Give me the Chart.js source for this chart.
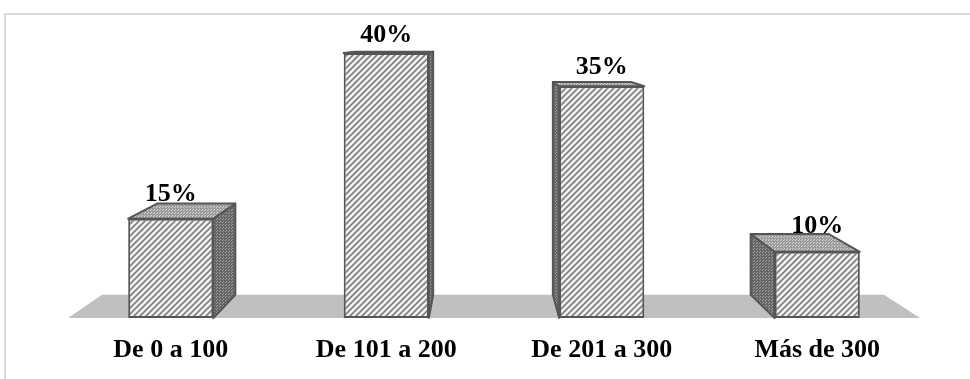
<!DOCTYPE html>
<html>
<head>
<meta charset="utf-8">
<script src="https://cdn.jsdelivr.net/npm/chart.js@4/dist/chart.umd.min.js"></script>
<style>
  html, body { margin: 0; padding: 0; background: #fff; }
  canvas { display: block; }
</style>
</head>
<body>
<canvas id="c" width="970" height="379"></canvas>
<script>
// Chart data
const categories = ['De 0 a 100', 'De 101 a 200', 'De 201 a 300', 'Más de 300'];
const percentages = [15, 40, 35, 10];
const valueAxisMax = 45;

const canvas = document.getElementById('c');
const ctx = canvas.getContext('2d');

// ---- fill patterns ----
function makePattern(size, paint) {
  const tile = document.createElement('canvas');
  tile.width = tile.height = size;
  const g = tile.getContext('2d');
  paint(g, size);
  return ctx.createPattern(tile, 'repeat');
}

// front faces: wide upward diagonal hatch
const hatch = makePattern(6, (g, s) => {
  g.fillStyle = '#f2f2f2';
  g.fillRect(0, 0, s, s);
  g.strokeStyle = '#7e7e7e';
  g.lineWidth = 1.6;
  g.beginPath();
  g.moveTo(-1, s + 1); g.lineTo(s + 1, -1);
  g.moveTo(-1, 1); g.lineTo(1, -1);
  g.moveTo(s - 1, s + 1); g.lineTo(s + 1, s - 1);
  g.stroke();
});

// top faces: light dotted grey
const dotsTop = makePattern(3, (g, s) => {
  g.fillStyle = '#9c9c9c';
  g.fillRect(0, 0, s, s);
  g.fillStyle = '#d6d6d6';
  g.fillRect(0, 0, 1, 1);
  g.fillRect(1, 2, 1, 1);
});

// side faces: dark dotted grey
const dotsSide = makePattern(3, (g, s) => {
  g.fillStyle = '#666666';
  g.fillRect(0, 0, s, s);
  g.fillStyle = '#a0a0a0';
  g.fillRect(0, 0, 1, 1);
  g.fillRect(1, 2, 1, 1);
});

// ---- simple one-point perspective for the 3D boxes ----
const VP = { x: 482, y: 35 };
const DEPTH = 0.082;
function back(x, y) {
  return [x + DEPTH * (VP.x - x), y + DEPTH * (VP.y - y)];
}
function poly(c, pts, fill, stroke) {
  c.beginPath();
  c.moveTo(pts[0][0], pts[0][1]);
  for (let i = 1; i < pts.length; i++) c.lineTo(pts[i][0], pts[i][1]);
  c.closePath();
  if (fill) { c.fillStyle = fill; c.fill(); }
  if (stroke) { c.strokeStyle = stroke; c.lineWidth = 2; c.lineJoin = 'round'; c.stroke(); }
}

const OUTLINE = '#555555';
const LABEL_FONT = 'bold 26px "Liberation Serif", "Times New Roman", serif';

const box3d = {
  id: 'box3d',
  beforeDraw(chart) {
    const c = chart.ctx;
    c.save();
    c.strokeStyle = '#d9d9d9';
    c.lineWidth = 2;
    c.strokeRect(5, 14, 1200, 1200);
    c.restore();
  },
  beforeDatasetsDraw(chart) {
    const c = chart.ctx;
    const area = chart.chartArea;
    const yBase = chart.scales.y.getPixelForValue(0);
    c.save();
    // floor
    const fl = area.left + 5, fr = area.right - 5;
    poly(c, [[fl, yBase], [fr, yBase], back(fr, yBase), back(fl, yBase)], '#c0c0c0', null);
    // side and top faces
    chart.getDatasetMeta(0).data.forEach(bar => {
      const p = bar.getProps(['x', 'y', 'base', 'width'], true);
      const l = p.x - p.width / 2, r = p.x + p.width / 2, t = p.y, b = p.base;
      if (r < VP.x) {
        poly(c, [[r, t], back(r, t), back(r, b), [r, b]], dotsSide, OUTLINE);
      } else if (l > VP.x) {
        poly(c, [[l, t], back(l, t), back(l, b), [l, b]], dotsSide, OUTLINE);
      }
      poly(c, [[l, t], [r, t], back(r, t), back(l, t)], dotsTop, OUTLINE);
    });
    c.restore();
  },
  afterDatasetsDraw(chart) {
    const c = chart.ctx;
    const ds = chart.data.datasets[0];
    c.save();
    c.font = LABEL_FONT;
    c.fillStyle = '#000';
    c.textAlign = 'center';
    c.textBaseline = 'alphabetic';
    chart.getDatasetMeta(0).data.forEach((bar, i) => {
      const p = bar.getProps(['x', 'y', 'width'], true);
      const backTop = back(p.x, p.y)[1];
      const yText = (p.y + backTop) / 2 - 10;
      c.fillText(ds.data[i] + '%', p.x, yText);
    });
    c.restore();
  }
};

new Chart(ctx, {
  type: 'bar',
  data: {
    labels: categories,
    datasets: [{
      data: percentages,
      backgroundColor: hatch,
      borderColor: OUTLINE,
      borderWidth: 2,
      borderSkipped: false,
      categoryPercentage: 1,
      barPercentage: 0.395
    }]
  },
  options: {
    responsive: false,
    animation: false,
    layout: { padding: { left: 63, right: 45, top: 20, bottom: 0 } },
    plugins: { legend: { display: false }, tooltip: { enabled: false } },
    scales: {
      x: {
        grid: { display: false, drawTicks: false },
        border: { display: false },
        ticks: {
          color: '#000',
          font: { family: '"Liberation Serif", "Times New Roman", serif', size: 26, weight: 'bold' },
          padding: 17,
          maxRotation: 0,
          autoSkip: false
        },
        afterFit(scale) { scale.height = 61; }
      },
      y: { display: false, min: 0, max: valueAxisMax }
    }
  },
  plugins: [box3d]
});
</script>
</body>
</html>
